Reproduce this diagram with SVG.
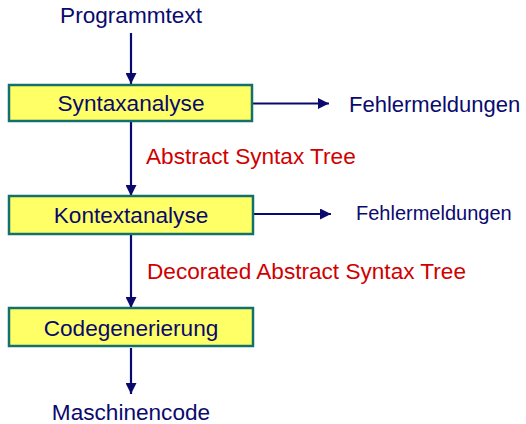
<svg xmlns="http://www.w3.org/2000/svg" width="526" height="424" viewBox="0 0 526 424">
<style>
.box{fill:#ffff66;stroke:#13706b;stroke-width:2.5}
.t{font-family:"Liberation Sans",Arial,sans-serif;font-size:22.6px;fill:#0a0a6e}
.c{text-anchor:middle}
.r{fill:#d00000}
.ln{stroke:#0a0a6e;stroke-width:2.2;fill:none;marker-end:url(#ah)}
</style>
<defs>
<marker id="ah" viewBox="0 0 10 10" refX="10" refY="5" markerWidth="5" markerHeight="5" orient="auto" markerUnits="strokeWidth">
<path d="M0,0 L10,5 L0,10 z" fill="#0a0a6e"/>
</marker>
</defs>
<rect width="526" height="424" fill="#ffffff"/>
<g id="connectors">
<line class="ln" x1="131" y1="33" x2="131" y2="84"/>
<line class="ln" x1="131" y1="122" x2="131" y2="196"/>
<line class="ln" x1="131" y1="235" x2="131" y2="308"/>
<line class="ln" x1="131" y1="348" x2="131" y2="394"/>
<line class="ln" x1="253" y1="103.5" x2="329" y2="103.5"/>
<line class="ln" x1="253" y1="214" x2="331" y2="214"/>
<text class="t r" x="146" y="164">Abstract Syntax Tree</text>
<text class="t r" x="147" y="279">Decorated Abstract Syntax Tree</text>
</g>
<g id="programmtext"><text class="t c" x="131" y="23">Programmtext</text></g>
<g id="syntaxanalyse">
<rect class="box" x="9" y="85" width="243" height="36"/>
<text class="t c" x="131" y="111">Syntaxanalyse</text>
</g>
<g id="fehler1"><text class="t" x="349" y="112" style="font-size:22px">Fehlermeldungen</text></g>
<g id="kontextanalyse">
<rect class="box" x="9" y="196" width="244" height="38"/>
<text class="t c" x="131" y="223">Kontextanalyse</text>
</g>
<g id="fehler2"><text class="t" x="356" y="220" style="font-size:20px">Fehlermeldungen</text></g>
<g id="codegenerierung">
<rect class="box" x="9" y="308" width="244" height="38"/>
<text class="t c" x="131" y="336">Codegenerierung</text>
</g>
<g id="maschinencode"><text class="t c" x="131" y="420">Maschinencode</text></g>
</svg>
